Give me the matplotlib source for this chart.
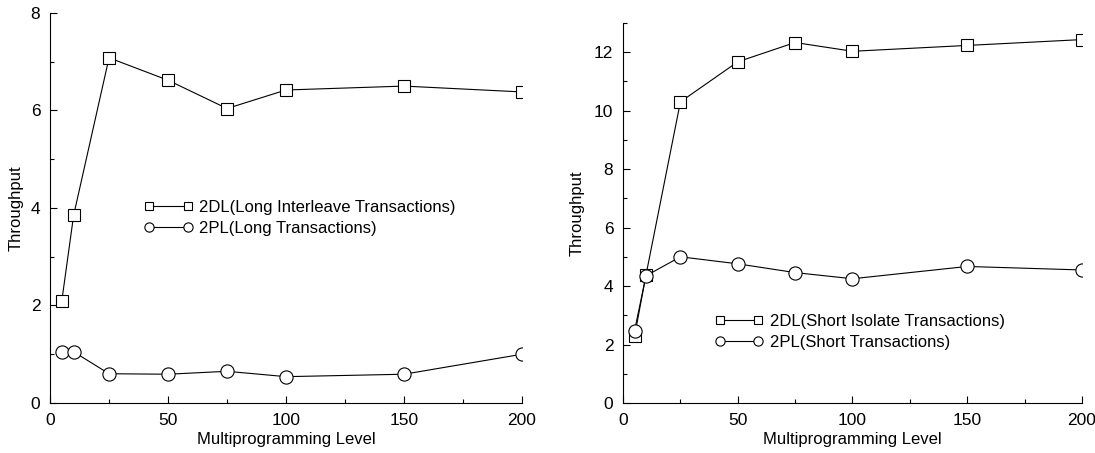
import matplotlib
matplotlib.use("Agg")
import matplotlib.pyplot as plt
from matplotlib.ticker import MultipleLocator

plt.rcParams['font.family'] = ['Liberation Sans', 'DejaVu Sans']

mpl_level = [5, 10, 25, 50, 75, 100, 150, 200]

# left panel: long transactions
long_2dl = [2.1, 3.85, 7.08, 6.62, 6.04, 6.42, 6.5, 6.38]
long_2pl = [1.05, 1.05, 0.6, 0.59, 0.65, 0.54, 0.59, 1.0]

# right panel: short transactions
short_2dl = [2.28, 4.38, 10.3, 11.67, 12.33, 12.03, 12.23, 12.43]
short_2pl = [2.47, 4.35, 5.0, 4.76, 4.46, 4.25, 4.67, 4.55]

labels_left = ["2DL(Long Interleave Transactions)", "2PL(Long Transactions)"]
labels_right = ["2DL(Short Isolate Transactions)", "2PL(Short Transactions)"]

fig = plt.figure(figsize=(10.95, 4.53), dpi=100)
ax1 = fig.add_axes([0.0457, 0.1104, 0.431, 0.861])
ax2 = fig.add_axes([0.569, 0.1104, 0.419, 0.839])


def draw(ax, y1, y2, labels, ymax, ymajor, legend_pos):
    ax.plot(mpl_level, y1, color='black', lw=0.8, marker='s', ms=8,
            mfc='white', mec='black', mew=0.8, label=labels[0])
    ax.plot(mpl_level, y2, color='black', lw=0.8, marker='o', ms=9.5,
            mfc='white', mec='black', mew=0.8, label=labels[1])
    ax.set_xlim(0, 200)
    ax.set_ylim(0, ymax)
    ax.spines['top'].set_visible(False)
    ax.spines['right'].set_visible(False)
    ax.xaxis.set_major_locator(MultipleLocator(50))
    ax.xaxis.set_minor_locator(MultipleLocator(25))
    ax.yaxis.set_major_locator(MultipleLocator(ymajor))
    ax.yaxis.set_minor_locator(MultipleLocator(ymajor / 2))
    ax.tick_params(which='both', direction='in', width=0.8, labelsize=12.5)
    ax.tick_params(which='major', length=5, pad=7)
    ax.tick_params(which='minor', length=3)
    ax.set_xlabel("Multiprogramming Level", fontsize=12, labelpad=3)
    ax.set_ylabel("Throughput", fontsize=12)
    ax.legend(loc='center left', bbox_to_anchor=legend_pos, frameon=False,
              numpoints=2, handlelength=2.9, handletextpad=0.4,
              borderpad=0, borderaxespad=0, labelspacing=0.38,
              markerscale=0.7, fontsize=12)


draw(ax1, long_2dl, long_2pl, labels_left, 8, 2, (0.2, 0.474))
draw(ax2, short_2dl, short_2pl, labels_right, 13, 2, (0.2, 0.187))
ax1.yaxis.set_label_coords(-0.055, 0.5)
ax2.yaxis.set_label_coords(-0.083, 0.5)

fig.savefig("out.png", dpi=100)
